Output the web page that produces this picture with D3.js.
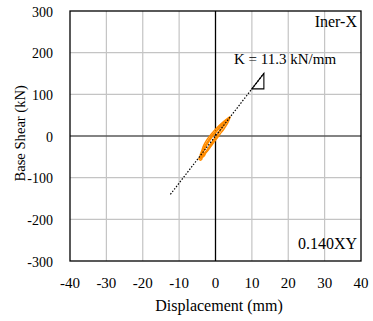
<!DOCTYPE html>
<html><head><meta charset="utf-8">
<script src="https://cdn.jsdelivr.net/npm/d3@7"></script>
<style>body{margin:0;background:#fff}svg{display:block}text{font-family:"Liberation Serif","Times New Roman",serif;fill:#000}</style>
</head><body><svg id="c" width="373" height="321"></svg>
<script>
const xTicks = [-40,-30,-20,-10,0,10,20,30,40];
const yTicks = [-300,-200,-100,0,100,200,300];
const stiffness = 11.3;
const fitLineX = [-12.4, 13.3];
const triangleX = [10.0, 13.3];
const loopA = [[-4.5,-57],[-3.6,-50],[-2.4,-38],[-1.2,-24],[0,-10],[1.2,4],[2.4,18],[3.4,32],[4.0,46],[3.4,42],[2.2,32],[0.8,18],[-0.6,4],[-1.8,-10],[-3.0,-26],[-3.9,-42],[-4.5,-57]];
const loopB = [[-4.2,-54],[-3.3,-46],[-2.2,-34],[-1.2,-20],[-0.2,-7],[0.8,6],[1.8,19],[2.8,31],[3.6,42],[3.0,38],[1.8,28],[0.4,14],[-1.0,0],[-2.2,-14],[-3.2,-30],[-3.9,-44],[-4.2,-54]];
const loopC = [[-3.6,-48],[-2.8,-40],[-1.8,-28],[-0.8,-14],[0.2,-1],[1.2,12],[2.2,24],[3.0,35],[2.4,31],[1.2,20],[-0.2,6],[-1.4,-8],[-2.4,-22],[-3.2,-36],[-3.6,-48]];
const loopD = [[-4.0,-52],[-3.0,-42],[-2.0,-30],[-1.0,-16],[0,-3],[1.0,10],[2.0,22],[3.0,34],[3.8,44],[3.0,40],[1.6,30],[0.2,18],[-1.2,4],[-2.3,-8],[-3.2,-22],[-3.8,-36],[-4.2,-46],[-4.0,-52]];
const loopE = [[-4.6,-52],[-4.2,-58],[-3.7,-54],[-4.0,-49],[-3.5,-45],[-3.9,-51],[-3.4,-50],[-2.9,-44],[-3.3,-40]];
const loops = [loopA, loopB, loopC, loopD, loopE];

const svg = d3.select("#c");
const L=70, R=361, T=11, B=261;
const x = d3.scaleLinear().domain([-40,40]).range([L,R]);
const y = d3.scaleLinear().domain([-300,300]).range([B,T]);

// grid
svg.append("g").selectAll("line").data(xTicks.filter(d=>d>-40&&d<40&&d!==0)).join("line")
  .attr("x1",d=>x(d)).attr("x2",d=>x(d)).attr("y1",T).attr("y2",B)
  .attr("stroke","#c4c4c4").attr("stroke-width",1.2);
svg.append("g").selectAll("line").data(yTicks.filter(d=>d>-300&&d<300&&d!==0)).join("line")
  .attr("x1",L).attr("x2",R).attr("y1",d=>y(d)).attr("y2",d=>y(d))
  .attr("stroke","#c4c4c4").attr("stroke-width",1.2);
// zero lines
svg.append("line").attr("x1",L).attr("x2",R).attr("y1",y(0)).attr("y2",y(0)).attr("stroke","#5a5a5a").attr("stroke-width",1.3);
svg.append("line").attr("x1",x(0)).attr("x2",x(0)).attr("y1",T).attr("y2",B).attr("stroke","#000").attr("stroke-width",1.3);

// loops
const line = d3.line().x(d=>x(d[0])).y(d=>y(d[1])).curve(d3.curveCatmullRom);
svg.append("g").selectAll("path").data(loops).join("path")
  .attr("d",line).attr("fill","none").attr("stroke","#FF8C00").attr("stroke-width",1.5);

// fit line
svg.append("line").attr("x1",x(fitLineX[0])).attr("y1",y(fitLineX[0]*stiffness))
  .attr("x2",x(fitLineX[1])).attr("y2",y(fitLineX[1]*stiffness))
  .attr("stroke","#000").attr("stroke-width",1.2).attr("stroke-dasharray","1.5,1.6");
// triangle
const tri = [[triangleX[0],triangleX[0]*stiffness],[triangleX[1],triangleX[1]*stiffness],[triangleX[1],triangleX[0]*stiffness]];
svg.append("path").attr("d","M"+tri.map(p=>x(p[0])+","+y(p[1])).join("L")+"Z")
  .attr("fill","none").attr("stroke","#000").attr("stroke-width",1.1);

// border
svg.append("rect").attr("x",L).attr("y",T).attr("width",R-L).attr("height",B-T)
  .attr("fill","none").attr("stroke","#000").attr("stroke-width",1.3);

// tick labels
svg.append("g").selectAll("text").data(xTicks).join("text")
  .attr("x",d=>x(d)).attr("y",288).attr("text-anchor","middle").attr("font-size",15).text(d=>d);
svg.append("g").selectAll("text").data(yTicks).join("text")
  .attr("x",53).attr("y",d=>y(d)+5.5).attr("text-anchor","end").attr("font-size",14).text(d=>d);

// titles
svg.append("text").attr("x",219).attr("y",311).attr("text-anchor","middle").attr("font-size",16).text("Displacement (mm)");
svg.append("text").attr("transform","translate(25,133.3) rotate(-90)").attr("text-anchor","middle").attr("font-size",14.6).text("Base Shear (kN)");

// annotations
svg.append("text").attr("x",234).attr("y",64).attr("font-size",15).text("K = "+stiffness+" kN/mm");
svg.append("text").attr("x",357).attr("y",27).attr("text-anchor","end").attr("font-size",16).text("Iner-X");
svg.append("text").attr("x",357).attr("y",249).attr("text-anchor","end").attr("font-size",16).text("0.140XY");
</script></body></html>
